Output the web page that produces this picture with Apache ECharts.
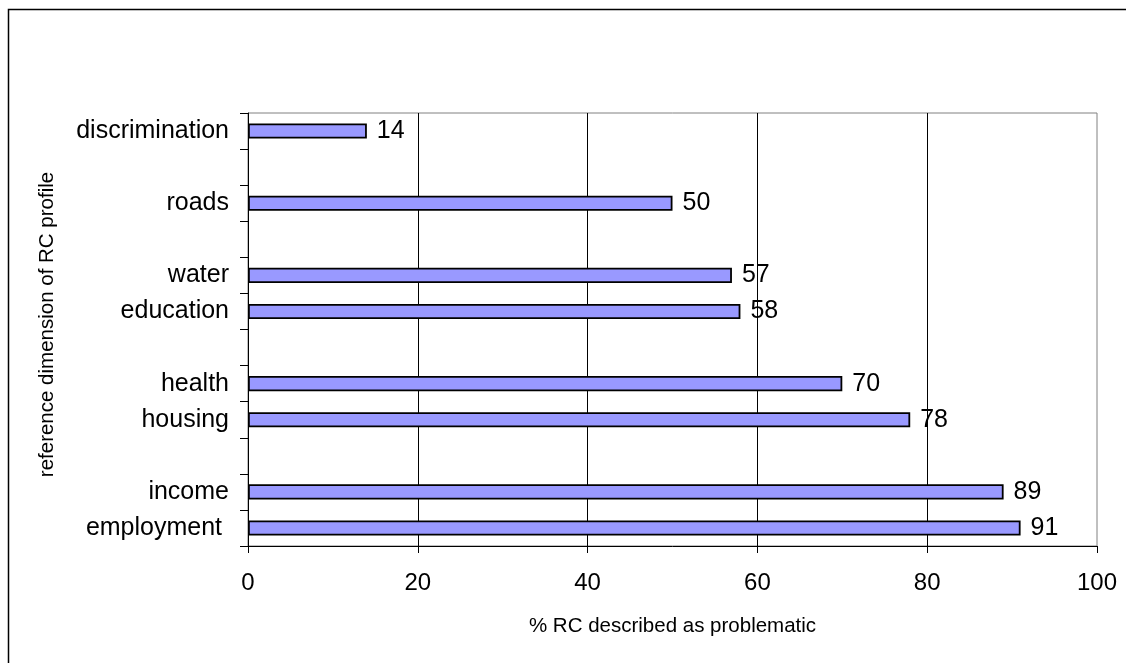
<!DOCTYPE html>
<html>
<head>
<meta charset="utf-8">
<title>Problematic reference dimensions</title>
<script src="https://cdn.jsdelivr.net/npm/echarts@6/dist/echarts.min.js"></script>
<style>
  html, body { margin: 0; padding: 0; background: #fff; }
  #chart { width: 1126px; height: 663px; }
</style>
</head>
<body>
<div id="chart"></div>
<script>
// Categories listed bottom to top; blank rows are spacer bands between groups.
const categories = ['employment ', 'income', ' ', 'housing', 'health', '  ', 'education', 'water', '   ', 'roads', '    ', 'discrimination'];
// Share of RCs describing each dimension as problematic (%); null for spacer rows.
const percentProblematic = [91, 89, null, 78, 70, null, 58, 57, null, 50, null, 14];
const xTicks = { min: 0, max: 100, interval: 20 };

const FONT = 'Liberation Sans, Arial, sans-serif';
const chart = echarts.init(document.getElementById('chart'), null, { renderer: 'canvas' });

chart.setOption({
  backgroundColor: '#fff',
  animation: false,
  graphic: [{
    type: 'rect',
    shape: { x: 8.5, y: 9.5, width: 1300, height: 800 },
    style: { fill: 'none', stroke: '#000', lineWidth: 1.5 },
    silent: true,
    z: 0
  }],
  grid: {
    left: 248, right: 29, top: 113, bottom: 117,
    show: true, borderColor: '#808080', borderWidth: 1, backgroundColor: '#fff'
  },
  xAxis: {
    type: 'value',
    min: xTicks.min, max: xTicks.max, interval: xTicks.interval,
    name: '% RC described as problematic',
    nameLocation: 'middle',
    nameGap: 70,
    nameTextStyle: { fontFamily: FONT, fontSize: 20.5, color: '#000' },
    axisLine: { show: true, lineStyle: { color: '#000', width: 1 } },
    axisTick: { show: true, length: 7, lineStyle: { color: '#000' } },
    axisLabel: { fontFamily: FONT, fontSize: 24, color: '#000', margin: 25 },
    splitLine: { show: true, showMinLine: false, showMaxLine: false, lineStyle: { color: '#000', width: 1 } }
  },
  yAxis: {
    type: 'category',
    data: categories,
    name: 'reference dimension of RC profile',
    nameLocation: 'middle',
    nameGap: 190,
    nameTextStyle: { fontFamily: FONT, fontSize: 20.5, color: '#000', padding: [0, 0, 0, 10] },
    axisLine: { show: true, lineStyle: { color: '#000', width: 1 } },
    axisTick: { show: true, length: 8, interval: 0, lineStyle: { color: '#000' } },
    axisLabel: { fontFamily: FONT, fontSize: 25, color: '#000', margin: 19, interval: 0 },
    splitLine: { show: false }
  },
  series: [{
    type: 'bar',
    data: percentProblematic,
    barWidth: '42%',
    itemStyle: { color: '#9999FF', borderColor: '#000', borderWidth: 1.8 },
    label: {
      show: true,
      position: 'right',
      distance: 10,
      fontFamily: FONT,
      fontSize: 25,
      color: '#000',
      formatter: '{c}'
    }
  }]
});
</script>
</body>
</html>
